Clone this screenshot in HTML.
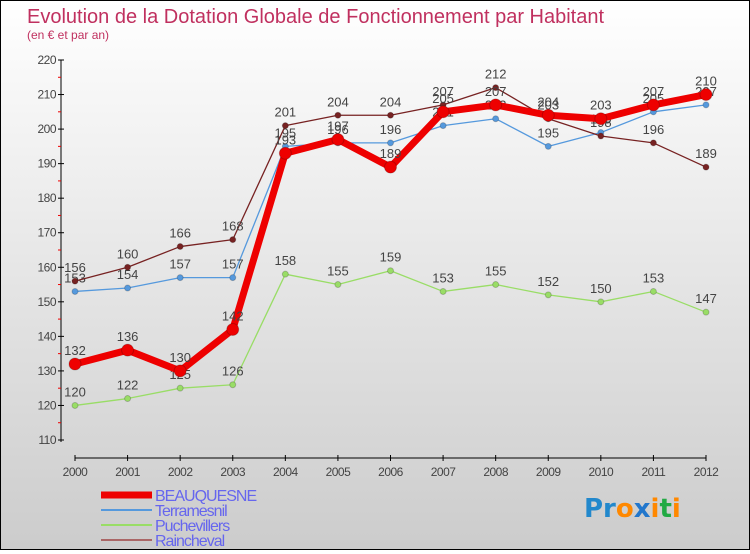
<!DOCTYPE html>
<html><head><meta charset="utf-8"><style>
html,body{margin:0;padding:0}
body{width:750px;height:550px;overflow:hidden;font-family:"Liberation Sans",sans-serif}
#wrap{position:relative;width:748px;height:548px;border:1px solid #000;background:linear-gradient(#fff,#ccc)}
</style></head><body>
<div id="wrap">
<svg id="chart" width="748" height="548"></svg>
</div>
<script>
const years=[2000,2001,2002,2003,2004,2005,2006,2007,2008,2009,2010,2011,2012];
const beauquesne=[132,136,130,142,193,197,189,205,207,204,203,207,210];
const terramesnil=[153,154,157,157,195,196,196,201,203,195,199,205,207];
const puchevillers=[120,122,125,126,158,155,159,153,155,152,150,153,147];
const raincheval=[156,160,166,168,201,204,204,207,212,203,198,196,189];
const yTicks=[110,120,130,140,150,160,170,180,190,200,210,220];
const NS="http://www.w3.org/2000/svg";
const svg=document.getElementById('chart');
const X=i=>74+i*(705-74)/12;
const Y=v=>439-(v-110)*(380/110);
function mk(t,a,p){const e=document.createElementNS(NS,t);for(const k in a)e.setAttribute(k,a[k]);(p||svg).appendChild(e);return e;}
let t=mk('text',{x:26,y:22,'font-size':20,fill:'#c0305f'});t.textContent='Evolution de la Dotation Globale de Fonctionnement par Habitant';


t=mk('text',{x:26,y:38,'font-size':12,fill:'#c0305f'});t.textContent='(en € et par an)';


let ya=mk('line',{x1:60,y1:Y(220),x2:60,y2:Y(110)+2,stroke:'#000'});


let xa=mk('line',{x1:74,y1:457,x2:705,y2:457,stroke:'#000'});


yTicks.forEach(v=>{
 mk('line',{x1:57,y1:Y(v),x2:63,y2:Y(v),stroke:'#000'});
 if(v<220) mk('line',{x1:57,y1:Y(v+5),x2:60,y2:Y(v+5),stroke:'#e00'});
 const l=mk('text',{x:55,y:Y(v)+4,'font-size':12,fill:'#444','text-anchor':'end','letter-spacing':'-0.5'});l.textContent=v;
 
 
});
years.forEach((y,i)=>{
 mk('line',{x1:X(i),y1:454,x2:X(i),y2:460,stroke:'#000'});
 const l=mk('text',{x:X(i),y:475,'font-size':12,fill:'#444','text-anchor':'middle','letter-spacing':'-0.5'});l.textContent=y;
 
 
});
function series(data,color,w,r,name){
 const g=mk('g',{});
 
 
 mk('polyline',{points:data.map((v,i)=>X(i)+','+Y(v)).join(' '),fill:'none',stroke:color,'stroke-width':w,'stroke-linejoin':'round'},g);
 data.forEach((v,i)=>{
  const c=mk('circle',{cx:X(i),cy:Y(v),r:r,fill:color,stroke:'#0003'},g);
  
  
  const l=mk('text',{x:X(i),y:Y(v)-9,'font-size':13,fill:'#444','text-anchor':'middle'},g);l.textContent=v;
  
  
 });
}
series(puchevillers,'#99dd66',1.3,3,'puchevillers');
series(terramesnil,'#5599dd',1.3,3,'terramesnil');
series(raincheval,'#772222',1.3,3,'raincheval');
series(beauquesne,'#ee0000',7,6,'beauquesne');
const leg=[['BEAUQUESNE','#ee0000',7],['Terramesnil','#5599dd',2],['Puchevillers','#99dd66',2],['Raincheval','#aa6666',2]];
leg.forEach((e,i)=>{
 const y=494+i*15;
 const g=mk('g',{});
 
 
 mk('line',{x1:100,y1:y,x2:151,y2:y,stroke:e[1],'stroke-width':e[2]},g);
 const l=mk('text',{x:154,y:y+6,'font-size':16,fill:'#6666ee','letter-spacing':'-1'},g);l.textContent=e[0];
});
const logo=mk('text',{x:583,y:516,'font-size':26,'font-weight':'bold','font-family':'"DejaVu Sans",sans-serif'});


[['Pr','#2288cc'],['o','#ff8800'],['x','#2277cc'],['i','#ff8800'],['t','#22aa44'],['i','#ff8800']].forEach(p=>{const s=mk('tspan',{fill:p[1]},logo);s.textContent=p[0];});
</script>
</body></html>
